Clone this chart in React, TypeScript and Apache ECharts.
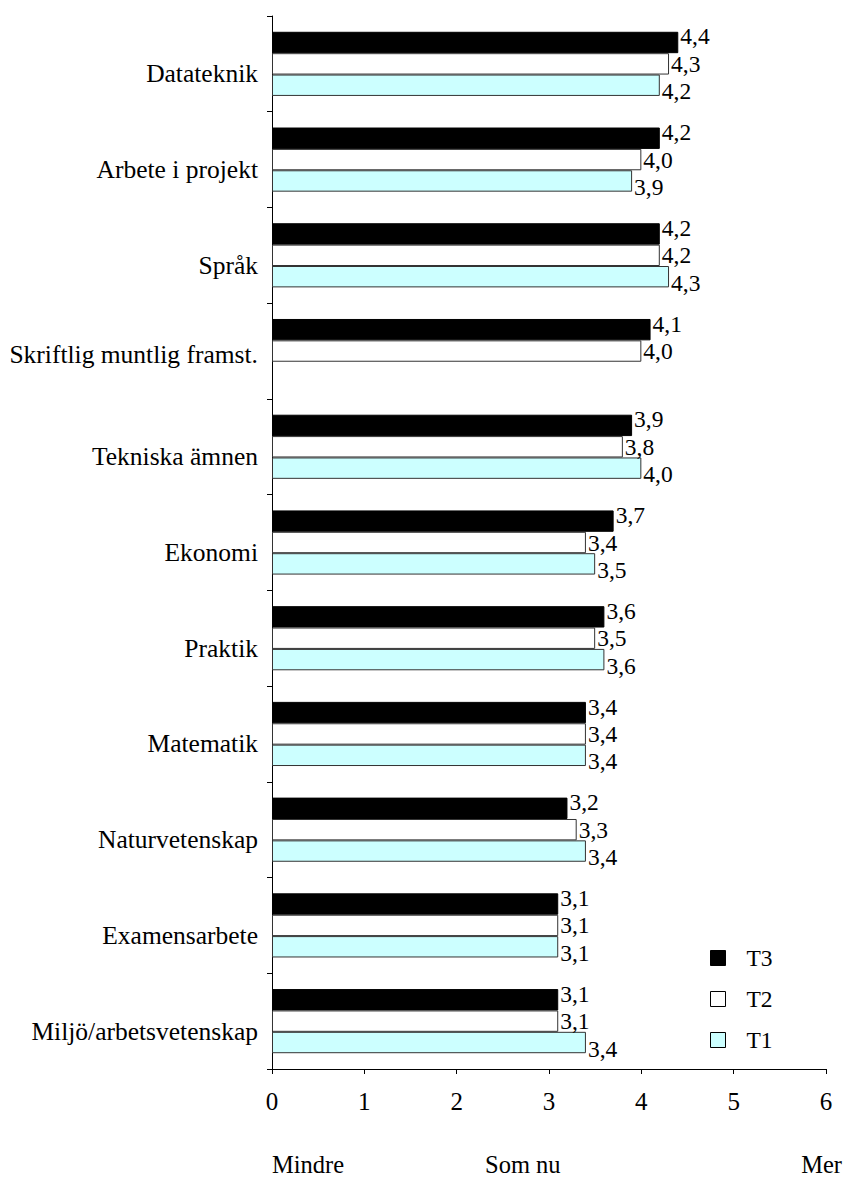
import React, { useEffect, useRef } from "react";
import * as echarts from "echarts";

// Survey categories, top to bottom
const categories = [
  "Datateknik",
  "Arbete i projekt",
  "Språk",
  "Skriftlig muntlig framst.",
  "Tekniska ämnen",
  "Ekonomi",
  "Praktik",
  "Matematik",
  "Naturvetenskap",
  "Examensarbete",
  "Miljö/arbetsvetenskap",
];

// Mean ratings per measurement occasion
const t3Values = [4.4, 4.2, 4.2, 4.1, 3.9, 3.7, 3.6, 3.4, 3.2, 3.1, 3.1];
const t2Values = [4.3, 4.0, 4.2, 4.0, 3.8, 3.4, 3.5, 3.4, 3.3, 3.1, 3.1];
const t1Values = [4.2, 3.9, 4.3, null, 4.0, 3.5, 3.6, 3.4, 3.4, 3.1, 3.4];

const seriesNames = ["T3", "T2", "T1"];
const scaleLabels = ["Mindre", "Som nu", "Mer"];

const FONT = "'Liberation Serif', 'Times New Roman', 'DejaVu Serif', serif";

const fmt = (v: number) => v.toFixed(1).replace(".", ",");

export default function App() {
  const ref = useRef<HTMLDivElement>(null);

  useEffect(() => {
    if (!ref.current) return;
    const chart = echarts.init(ref.current, null, { renderer: "svg" });

    const valueLabel = (dy: number) => ({
      show: true,
      position: "right" as const,
      distance: 2,
      offset: [0, dy],
      color: "#000",
      fontFamily: FONT,
      fontSize: 23.5,
      formatter: (p: any) => fmt(p.value),
    });

    const colors = ["#000000", "#ffffff", "#ccffff"];
    const data = [t3Values, t2Values, t1Values];
    const offsets = [-6, 0, 6];

    chart.setOption({
      animation: false,
      backgroundColor: "#ffffff",
      textStyle: { fontFamily: FONT },
      grid: { left: 272, right: 20, top: 16, bottom: 109, containLabel: false },
      legend: {
        orient: "vertical",
        left: 710,
        top: 946,
        itemWidth: 15,
        itemHeight: 15,
        itemGap: 17,
        padding: 0,
        icon: "rect",
        textStyle: {
          fontFamily: FONT,
          fontSize: 23.5,
          color: "#000",
          padding: [0, 0, 0, 16],
        },
        data: seriesNames.map((n, i) => ({
          name: n,
          itemStyle: { color: colors[i], borderColor: "#000", borderWidth: 1 },
        })),
      },
      xAxis: {
        type: "value",
        min: 0,
        max: 6,
        interval: 1,
        splitLine: { show: false },
        axisLine: { show: true, lineStyle: { color: "#000", width: 1 } },
        axisTick: { show: true, length: 5, lineStyle: { color: "#000" } },
        axisLabel: {
          margin: 20,
          color: "#000",
          fontFamily: FONT,
          fontSize: 25,
        },
      },
      yAxis: {
        type: "category",
        inverse: true,
        data: categories,
        axisLine: { show: true, lineStyle: { color: "#000", width: 1 } },
        axisTick: { show: true, length: 5, lineStyle: { color: "#000" } },
        axisLabel: {
          margin: 14,
          color: "#000",
          fontFamily: FONT,
          fontSize: 25.5,
          formatter: (v: string) =>
            v.startsWith("Skriftlig") ? `{b|${v}}` : `{a|${v}}`,
          rich: {
            a: {
              fontFamily: FONT,
              fontSize: 25.5,
              color: "#000",
              padding: [20, 0, 0, 0],
            },
            b: {
              fontFamily: FONT,
              fontSize: 25.5,
              color: "#000",
              padding: [6, 0, 0, 0],
            },
          },
        },
      },
      series: seriesNames.map((name, i) => ({
        name,
        type: "bar",
        data: data[i],
        barGap: "0%",
        barCategoryGap: "33%",
        itemStyle: {
          color: colors[i],
          borderColor: i === 0 ? "#000" : "#333",
          borderWidth: 1,
        },
        label: valueLabel(offsets[i]),
      })),
      graphic: [
        {
          type: "text",
          left: 272,
          top: 1152,
          style: { text: scaleLabels[0], fontFamily: FONT, fontSize: 24.5, fill: "#000" },
        },
        {
          type: "text",
          left: 485,
          top: 1152,
          style: { text: scaleLabels[1], fontFamily: FONT, fontSize: 24.5, fill: "#000" },
        },
        {
          type: "text",
          right: 4,
          top: 1152,
          style: { text: scaleLabels[2], fontFamily: FONT, fontSize: 24.5, fill: "#000" },
        },
      ],
    });

    return () => chart.dispose();
  }, []);

  return (
    <div
      ref={ref}
      style={{ position: "fixed", left: 0, top: 0, width: 846, height: 1178 }}
    />
  );
}
